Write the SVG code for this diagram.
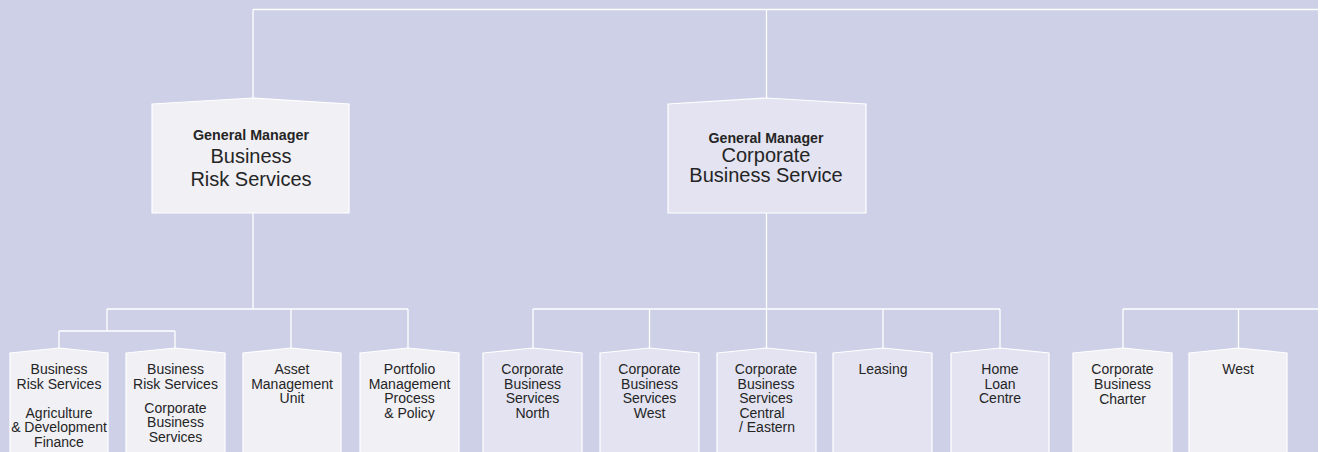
<svg xmlns="http://www.w3.org/2000/svg" width="1327" height="452" viewBox="0 0 1327 452">
  <style>
    .bg { fill: #cdd0e6; }
    .wire { fill: none; stroke: #ffffff; stroke-width: 1.3; }
    .box { stroke: #ffffff; stroke-width: 1.2; }
    .light { fill: #f0f0f5; }
    .dark { fill: #e3e3f1; }
    text { font-family: "Liberation Sans", Arial, Helvetica, sans-serif; fill: #252525; text-anchor: middle; }
    .unit { font-size: 14px; }
    .gm { font-size: 20px; }
    .gmt { font-family: "Liberation Sans Narrow", "Liberation Sans", Arial, sans-serif; font-size: 15px; font-weight: bold; }
  </style>

  <rect class="bg" x="0" y="0" width="1318" height="452"/>
  <rect x="1318" y="0" width="9" height="452" fill="#ffffff"/>

  <!-- connectors -->
  <g id="connectors" class="wire">
    <!-- top bus -->
    <path d="M253 9.5 H1318 M253 9.5 V98 M766.5 9.5 V98"/>
    <!-- Business Risk Services branch -->
    <path d="M253 213 V309 M107 309 H408 M107 309 V331 M59 331 H175 M59 331 V348 M175 331 V348 M291 309 V348 M408 309 V348"/>
    <!-- Corporate Business Service branch -->
    <path d="M766.5 213 V309 M533 309 H1000 M533 309 V348 M649.5 309 V348 M766.5 309 V348 M883 309 V348 M1000 309 V348"/>
    <!-- right branch -->
    <path d="M1123 309 H1318 M1123 309 V348 M1238.5 309 V348"/>
  </g>

  <!-- general managers -->
  <g id="gm-brs">
    <polygon class="box light" points="152,104 253,98 349,104 349,213 152,213"/>
    <text class="gmt" x="251" y="140" textLength="116" lengthAdjust="spacingAndGlyphs">General Manager</text>
    <text class="gm" x="251" y="163">Business</text>
    <text class="gm" x="251" y="186">Risk Services</text>
  </g>
  <g id="gm-cbs">
    <polygon class="box dark" points="668,104 766.5,98 866,104 866,213 668,213"/>
    <text class="gmt" x="766" y="142.5" textLength="115" lengthAdjust="spacingAndGlyphs">General Manager</text>
    <text class="gm" x="766" y="161.5">Corporate</text>
    <text class="gm" x="766" y="182">Business Service</text>
  </g>

  <!-- units -->
  <g id="brs-adf">
    <polygon class="box light" points="10,353 59,348 108,353 108,453 10,453"/>
    <text class="unit" x="59" y="374">Business</text>
    <text class="unit" x="59" y="388.5">Risk Services</text>
    <text class="unit" x="59" y="417.5">Agriculture</text>
    <text class="unit" x="59" y="432">&amp; Development</text>
    <text class="unit" x="59" y="446.5">Finance</text>
  </g>
  <g id="brs-cbs">
    <polygon class="box light" points="126,353 175,348 225,353 225,453 126,453"/>
    <text class="unit" x="175.5" y="374">Business</text>
    <text class="unit" x="175.5" y="388.5">Risk Services</text>
    <text class="unit" x="175.5" y="412.5">Corporate</text>
    <text class="unit" x="175.5" y="427">Business</text>
    <text class="unit" x="175.5" y="441.5">Services</text>
  </g>
  <g id="asset-mgmt">
    <polygon class="box light" points="243,353 291,348 341,353 341,453 243,453"/>
    <text class="unit" x="292" y="374">Asset</text>
    <text class="unit" x="292" y="388.5">Management</text>
    <text class="unit" x="292" y="403">Unit</text>
  </g>
  <g id="portfolio">
    <polygon class="box light" points="360,353 408,348 459,353 459,453 360,453"/>
    <text class="unit" x="409.5" y="374">Portfolio</text>
    <text class="unit" x="409.5" y="388.5">Management</text>
    <text class="unit" x="409.5" y="403">Process</text>
    <text class="unit" x="409.5" y="417.5">&amp; Policy</text>
  </g>
  <g id="cbs-north">
    <polygon class="box dark" points="483,353 533,348 582,353 582,453 483,453"/>
    <text class="unit" x="532.5" y="374">Corporate</text>
    <text class="unit" x="532.5" y="388.5">Business</text>
    <text class="unit" x="532.5" y="403">Services</text>
    <text class="unit" x="532.5" y="417.5">North</text>
  </g>
  <g id="cbs-west">
    <polygon class="box dark" points="600,353 649.5,348 699,353 699,453 600,453"/>
    <text class="unit" x="649.5" y="374">Corporate</text>
    <text class="unit" x="649.5" y="388.5">Business</text>
    <text class="unit" x="649.5" y="403">Services</text>
    <text class="unit" x="649.5" y="417.5">West</text>
  </g>
  <g id="cbs-central">
    <polygon class="box dark" points="717,353 766.5,348 816,353 816,453 717,453"/>
    <text class="unit" x="766" y="374">Corporate</text>
    <text class="unit" x="766" y="388.5">Business</text>
    <text class="unit" x="766" y="403">Services</text>
    <text class="unit" x="762" y="417.5">Central</text>
    <text class="unit" x="767" y="432">/ Eastern</text>
  </g>
  <g id="leasing">
    <polygon class="box dark" points="833,353 883,348 932,353 932,453 833,453"/>
    <text class="unit" x="883" y="374">Leasing</text>
  </g>
  <g id="home-loan">
    <polygon class="box dark" points="951,353 1000,348 1049,353 1049,453 951,453"/>
    <text class="unit" x="1000" y="374">Home</text>
    <text class="unit" x="1000" y="388.5">Loan</text>
    <text class="unit" x="1000" y="403">Centre</text>
  </g>
  <g id="cb-charter">
    <polygon class="box light" points="1073,353 1123,348 1172,353 1172,453 1073,453"/>
    <text class="unit" x="1122.5" y="374">Corporate</text>
    <text class="unit" x="1122.5" y="388.5">Business</text>
    <text class="unit" x="1122.5" y="404">Charter</text>
  </g>
  <g id="west">
    <polygon class="box light" points="1189,353 1238.5,348 1287,353 1287,453 1189,453"/>
    <text class="unit" x="1238" y="374">West</text>
  </g>
</svg>
